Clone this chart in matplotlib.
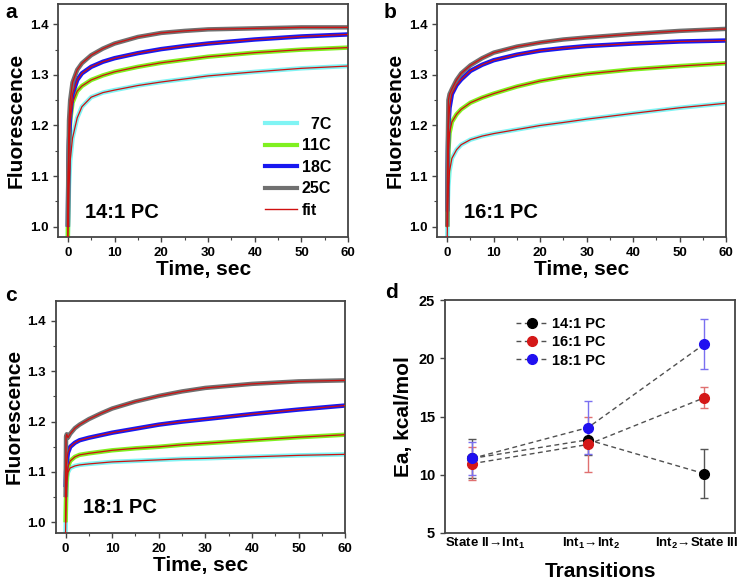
import matplotlib
matplotlib.use("Agg")
import matplotlib.pyplot as plt
from matplotlib.lines import Line2D

plt.rcParams.update({
    "font.family": ["Liberation Sans", "DejaVu Sans"],
    "font.weight": "bold",
    "axes.labelweight": "bold",
    "mathtext.fontset": "custom",
    "mathtext.rm": "Liberation Sans:bold",
    "mathtext.it": "Liberation Sans:bold",
    "mathtext.bf": "Liberation Sans:bold",
})

# ---- data ----
time_s = [0, 0.1, 0.25, 0.5, 1, 2, 3, 5, 7.5, 10, 15, 20, 25, 30, 40, 50, 60]
temps = ["7C", "11C", "18C", "25C"]

a_7C = [0.98, 1.02, 1.08, 1.13, 1.175, 1.215, 1.237, 1.256, 1.265, 1.270, 1.279, 1.286, 1.292, 1.298, 1.306, 1.313, 1.3175]
a_11C = [0.98, 1.08, 1.16, 1.21, 1.245, 1.268, 1.278, 1.290, 1.299, 1.306, 1.316, 1.324, 1.330, 1.336, 1.344, 1.350, 1.354]
a_18C = [1.00, 1.10, 1.17, 1.22, 1.262, 1.290, 1.303, 1.316, 1.326, 1.333, 1.343, 1.351, 1.357, 1.362, 1.370, 1.376, 1.380]
a_25C = [1.00, 1.12, 1.21, 1.25, 1.285, 1.310, 1.323, 1.339, 1.352, 1.362, 1.375, 1.383, 1.387, 1.390, 1.392, 1.394, 1.394]

b_7C = [0.98, 1.04, 1.08, 1.11, 1.135, 1.152, 1.162, 1.172, 1.179, 1.184, 1.192, 1.200, 1.206, 1.2125, 1.224, 1.235, 1.244]
b_11C = [1.00, 1.08, 1.15, 1.185, 1.207, 1.222, 1.232, 1.245, 1.255, 1.263, 1.277, 1.288, 1.296, 1.302, 1.311, 1.3175, 1.323]
b_18C = [1.03, 1.12, 1.20, 1.235, 1.262, 1.280, 1.291, 1.308, 1.320, 1.329, 1.340, 1.348, 1.353, 1.357, 1.362, 1.366, 1.368]
b_25C = [1.00, 1.15, 1.25, 1.262, 1.272, 1.290, 1.303, 1.319, 1.333, 1.344, 1.356, 1.364, 1.370, 1.374, 1.381, 1.387, 1.391]

c_7C = [0.98, 1.04, 1.08, 1.099, 1.108, 1.112, 1.114, 1.116, 1.118, 1.120, 1.122, 1.124, 1.126, 1.127, 1.130, 1.133, 1.135]
c_11C = [1.00, 1.05, 1.09, 1.11, 1.122, 1.130, 1.134, 1.137, 1.140, 1.143, 1.147, 1.150, 1.154, 1.157, 1.163, 1.169, 1.174]
c_18C = [1.07, 1.10, 1.12, 1.138, 1.150, 1.158, 1.163, 1.168, 1.173, 1.178, 1.186, 1.194, 1.200, 1.205, 1.215, 1.224, 1.232]
c_25C = [1.05, 1.17, 1.175, 1.168, 1.176, 1.187, 1.194, 1.205, 1.216, 1.226, 1.240, 1.251, 1.260, 1.267, 1.275, 1.280, 1.282]

transitions = ["State II\u2192Int$_1$", "Int$_1$\u2192Int$_2$", "Int$_2$\u2192State III"]
lipids = ["14:1 PC", "16:1 PC", "18:1 PC"]
ea_14 = [11.4, 13.0, 10.1]
err_14 = [1.7, 1.3, 2.1]
ea_16 = [10.95, 12.6, 16.6]
err_16 = [1.4, 2.35, 0.9]
ea_18 = [11.4, 14.05, 21.2]
err_18 = [1.45, 2.3, 2.15]

COLORS = ["#80F4F4", "#80F020", "#1818F0", "#707070"]
FIT = "#D01010"
SPINE = "#444444"

fig = plt.figure(figsize=(7.44, 5.83), dpi=100)
ax_a = fig.add_axes([0.078, 0.593, 0.390, 0.400])
ax_b = fig.add_axes([0.588, 0.593, 0.388, 0.400])
ax_c = fig.add_axes([0.075, 0.086, 0.389, 0.398])
ax_d = fig.add_axes([0.598, 0.086, 0.390, 0.399])


def style(ax, size=9.5):
    for s in ax.spines.values():
        s.set_color(SPINE)
        s.set_linewidth(1.3)
    ax.tick_params(direction="out", length=3.5, width=1, color=SPINE, labelsize=size)
    for lab in ax.get_xticklabels() + ax.get_yticklabels():
        lab.set_fontweight("bold")


def kinetics(ax, series, tag):
    for ys, col in zip(series, COLORS):
        ax.plot(time_s, ys, color=col, lw=3.2, solid_capstyle="butt", zorder=2)
        ax.plot(time_s, ys, color=FIT, lw=0.9, zorder=3)
    ax.set_xlim(-2.1, 60)
    ax.set_ylim(0.979, 1.44)
    ax.set_xticks([0, 10, 20, 30, 40, 50, 60])
    ax.set_xticks([5, 15, 25, 35, 45, 55], minor=True)
    ax.set_yticks([1.0, 1.1, 1.2, 1.3, 1.4])
    ax.set_yticks([1.05, 1.15, 1.25, 1.35], minor=True)
    ax.tick_params(which="minor", direction="out", length=2, width=0.8, color=SPINE)
    ax.set_xlabel("Time, sec", fontsize=15, fontweight="bold", labelpad=1)
    ax.set_ylabel("Fluorescence", fontsize=15, fontweight="bold", labelpad=3)
    ax.text(3.7, 1.018, tag, fontsize=14.5, fontweight="bold", va="baseline")
    style(ax)


kinetics(ax_a, [a_7C, a_11C, a_18C, a_25C], "14:1 PC")
kinetics(ax_b, [b_7C, b_11C, b_18C, b_25C], "16:1 PC")
kinetics(ax_c, [c_7C, c_11C, c_18C, c_25C], "18:1 PC")

handles = [Line2D([], [], color=c, lw=3) for c in COLORS] + [Line2D([], [], color=FIT, lw=1)]
labels = ["  7C", "11C", "18C", "25C", "fit"]
ax_a.legend(handles, labels, loc="upper left", bbox_to_anchor=(0.685, 0.55), frameon=False,
            handlelength=2.0, handletextpad=0.3, labelspacing=0.4,
            borderpad=0, prop={"weight": "bold", "size": 11.5})

# panel d
x = list(range(len(transitions)))
for ea, err, col, ecol, lab in [(ea_14, err_14, "#000000", "#555555", lipids[0]),
                                (ea_16, err_16, "#D41818", "#E07070", lipids[1]),
                                (ea_18, err_18, "#2010F0", "#7A70F0", lipids[2])]:
    ax_d.errorbar(x, ea, yerr=err, fmt="none", ecolor=ecol, elinewidth=1, capsize=3,
                  capthick=1, zorder=2)
    ax_d.plot(x, ea, color="#505050", lw=1, dashes=(3.5, 2.5), marker="o", ms=7,
              mfc=col, mec=col, label=lab, zorder=3)
ax_d.set_xlim(-0.235, 2.27)
ax_d.set_ylim(5, 25)
ax_d.set_xticks(x)
ax_d.set_xticklabels([])
ax_d.set_yticks([5, 10, 15, 20, 25])
style(ax_d, size=10.5)
ax_d.tick_params(axis="x", length=0)
# category labels placed by hand: the outer ones hug the axes edges as in the reference
for i, (xa, ha) in enumerate([(0.0, "left"), (0.503, "center"), (1.011, "right")]):
    ax_d.text(xa, -0.045, transitions[i], transform=ax_d.transAxes, ha=ha, va="center",
              fontsize=9.5, fontweight="bold", clip_on=False)
ax_d.set_xlabel("Transitions", fontsize=15, fontweight="bold")
ax_d.xaxis.set_label_coords(0.535, -0.126)
ax_d.set_ylabel("Ea, kcal/mol", fontsize=15, fontweight="bold", labelpad=4)
ax_d.legend(loc="upper left", bbox_to_anchor=(0.22, 0.96), frameon=False,
            handlelength=2.2, handletextpad=0.3, labelspacing=0.3, borderpad=0,
            prop={"weight": "bold", "size": 10.5})

for letter, (px, py) in zip("abcd", [(5, 3), (384, 3), (5, 286), (385, 283)]):
    fig.text(px / 744, 1 - py / 583, letter, fontsize=15, fontweight="bold", va="top", ha="left")

fig.savefig("out.png", dpi=100)
